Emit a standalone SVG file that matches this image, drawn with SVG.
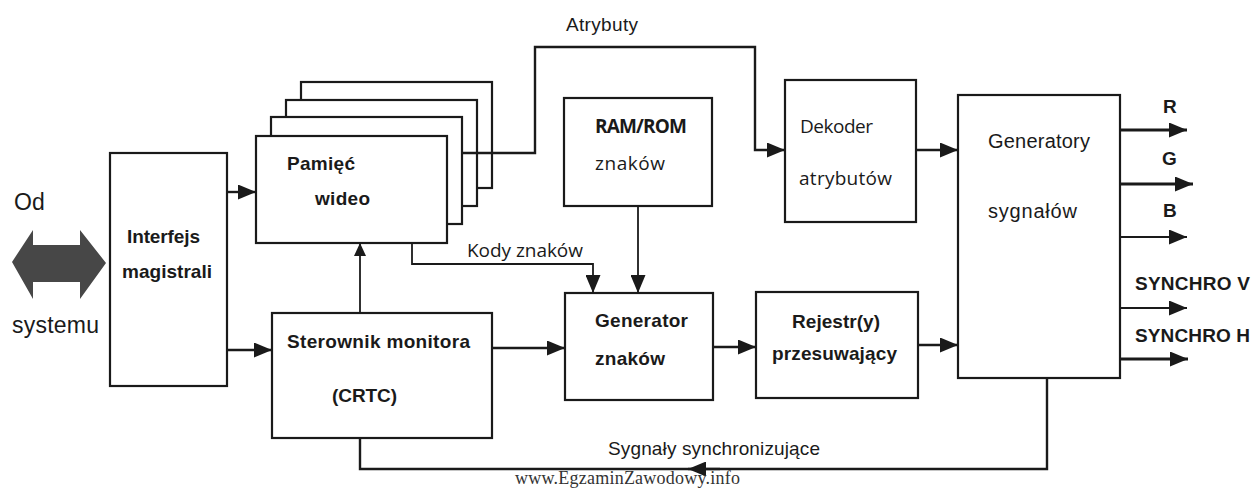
<svg xmlns="http://www.w3.org/2000/svg" width="1255" height="489" viewBox="0 0 1255 489">
  <style>
    .box { fill: #ffffff; stroke: #1a1a1a; stroke-width: 2.2; }
    .wire { fill: none; stroke: #1a1a1a; stroke-width: 2.4; }
    .thin { stroke-width: 1.8; }
    .thick { stroke-width: 3.2; }
    .lb { font-family: "Liberation Sans", Arial, sans-serif; font-weight: bold; font-size: 19px; fill: #1a1a1a; }
    .lr { font-family: "Liberation Sans", Arial, sans-serif; font-size: 20px; fill: #1a1a1a; }
    .lc { font-family: "Open Sans", "Noto Sans", sans-serif; font-size: 19px; fill: #1a1a1a; }
    .lcb { font-family: "Open Sans", "Noto Sans", sans-serif; font-weight: bold; font-size: 19px; fill: #1a1a1a; }
    .wm { font-family: "Liberation Serif", "Times New Roman", serif; font-size: 18px; fill: #333333; }
  </style>
  <defs>
    <marker id="arr" markerUnits="userSpaceOnUse" markerWidth="18" markerHeight="15" refX="18" refY="7.5" orient="auto">
      <path d="M0,0 L18,7.5 L0,15 z" fill="#1a1a1a"/>
    </marker>
    <marker id="arrS" markerUnits="userSpaceOnUse" markerWidth="13" markerHeight="12" refX="13" refY="6" orient="auto">
      <path d="M0,0 L13,6 L0,12 z" fill="#1a1a1a"/>
    </marker>
  </defs>
  <rect width="1255" height="489" fill="#ffffff"/>

  <!-- system bus -->
  <g id="bus">
    <polygon points="12,262 33,230 33,245 80,245 80,230 106,263 80,299 80,282 33,282 33,299" fill="#474747"/>
    <text class="lr" x="14" y="210" style="font-size:23px">Od</text>
    <text class="lr" x="12" y="333" style="font-size:23px" textLength="87">systemu</text>
  </g>

  <g id="interfejs">
    <rect class="box" x="110" y="153" width="117" height="233"/>
    <text class="lb" x="127" y="243" textLength="73">Interfejs</text>
    <text class="lb" x="122" y="278" textLength="90">magistrali</text>
  </g>

  <g id="pamiec">
    <rect class="box" x="301" y="82" width="191" height="106"/>
    <rect class="box" x="286" y="100" width="191" height="106"/>
    <rect class="box" x="271" y="117" width="191" height="107"/>
    <rect class="box" x="256" y="136" width="191" height="107"/>
    <text class="lb" x="287" y="170" textLength="68">Pamięć</text>
    <text class="lb" x="315" y="205" textLength="55">wideo</text>
  </g>

  <g id="sterownik">
    <rect class="box" x="272" y="313" width="220" height="125"/>
    <text class="lb" x="287" y="348" textLength="183">Sterownik monitora</text>
    <text class="lb" x="332" y="402" textLength="65">(CRTC)</text>
  </g>

  <g id="ramrom">
    <rect class="box" x="564" y="98" width="148" height="108"/>
    <text class="lcb" x="595" y="133" textLength="92">RAM/ROM</text>
    <text class="lc" x="595" y="170" textLength="70">znaków</text>
  </g>

  <g id="generator">
    <rect class="box" x="565" y="293" width="148" height="107"/>
    <text class="lb" x="595" y="327" textLength="93">Generator</text>
    <text class="lb" x="595" y="365" textLength="70">znaków</text>
  </g>

  <g id="dekoder">
    <rect class="box" x="785" y="80" width="131" height="142"/>
    <text class="lc" x="800" y="133" textLength="73">Dekoder</text>
    <text class="lc" x="799" y="185" textLength="93">atrybutów</text>
  </g>

  <g id="rejestr">
    <rect class="box" x="756" y="292" width="162" height="106"/>
    <text class="lb" x="792" y="328" textLength="88">Rejestr(y)</text>
    <text class="lb" x="772" y="360" textLength="125">przesuwający</text>
  </g>

  <g id="generatory">
    <rect class="box" x="958" y="95" width="162" height="283"/>
    <text class="lr" x="988" y="148" textLength="102">Generatory</text>
    <text class="lr" x="988" y="218" textLength="89">sygnałów</text>
  </g>

  <g id="connectors">
    <!-- interface outputs -->
    <path class="wire" d="M227,192 H256" marker-end="url(#arr)"/>
    <path class="wire" d="M227,350 H272" marker-end="url(#arr)"/>
    <!-- CRTC addresses video memory -->
    <path class="wire thin" d="M360,313 V243" marker-end="url(#arrS)"/>
    <!-- attributes -->
    <path class="wire" d="M462,153 H535 V47 H755 V150 H785" marker-end="url(#arr)"/>
    <text class="lr" x="566" y="31" textLength="72" style="font-size:19px">Atrybuty</text>
    <!-- character codes -->
    <path class="wire thin" d="M412,243 V264 H593 V293" marker-end="url(#arr)"/>
    <text class="lc" x="467" y="257" textLength="116">Kody znaków</text>
    <path class="wire thin" d="M638,206 V293" marker-end="url(#arr)"/>
    <!-- main data path -->
    <path class="wire" d="M492,348 H565" marker-end="url(#arr)"/>
    <path class="wire" d="M713,347 H756" marker-end="url(#arr)"/>
    <path class="wire" d="M918,345 H958" marker-end="url(#arr)"/>
    <path class="wire" d="M916,150 H958" marker-end="url(#arr)"/>
    <!-- outputs -->
    <path class="wire thick" d="M1120,130 H1187" marker-end="url(#arr)"/>
    <text class="lb" x="1163" y="113">R</text>
    <path class="wire thick" d="M1120,184 H1193" marker-end="url(#arr)"/>
    <text class="lb" x="1162" y="165">G</text>
    <path class="wire thin" d="M1120,237 H1187" marker-end="url(#arr)"/>
    <text class="lb" x="1163" y="217">B</text>
    <path class="wire thin" d="M1120,308 H1187" marker-end="url(#arr)"/>
    <text class="lb" x="1135" y="290" textLength="115">SYNCHRO V</text>
    <path class="wire thick" d="M1120,359 H1188" marker-end="url(#arr)"/>
    <text class="lb" x="1135" y="342" textLength="115">SYNCHRO H</text>
    <!-- synchronisation feedback -->
    <path class="wire" d="M1047,378 V469 H360 V438"/>
    <path class="wire" d="M720,469 H688" marker-end="url(#arr)"/>
    <text class="lr" x="608" y="455" textLength="212" style="font-size:19px">Sygnały synchronizujące</text>
  </g>

  <text class="wm" x="515" y="484" textLength="225">www.EgzaminZawodowy.info</text>
</svg>
